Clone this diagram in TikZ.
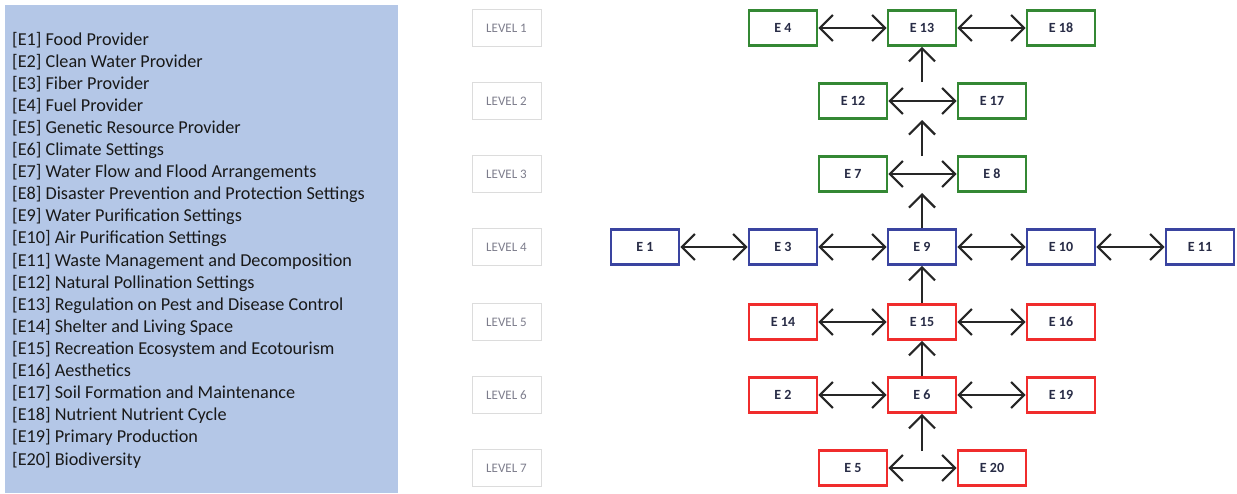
\documentclass[tikz,border=0pt]{standalone}
\usepackage{fontspec}
\setmainfont{Carlito}
\usetikzlibrary{arrows.meta}
\definecolor{panel}{RGB}{180,199,231}
\definecolor{gbox}{RGB}{52,136,52}
\definecolor{bbox}{RGB}{58,68,160}
\definecolor{rbox}{RGB}{240,44,44}
\definecolor{lvtext}{RGB}{125,125,140}
\definecolor{lvline}{RGB}{220,220,220}
\definecolor{ntext}{RGB}{40,44,70}
\tikzset{
  ebox/.style={draw, line width=2.6pt, minimum width=68pt, minimum height=35pt, inner sep=0pt, fill=white, font=\fontsize{14}{16}\selectfont\bfseries, text=ntext},
  gn/.style={ebox, draw=gbox},
  bn/.style={ebox, draw=bbox},
  rn/.style={ebox, draw=rbox},
  lvbox/.style={draw=lvline, line width=1pt, minimum width=69pt, minimum height=37pt, inner sep=0pt, font=\fontsize{13}{15}\selectfont, text=lvtext},
  conn/.style={line width=2.3pt, draw=black!85, {Straight Barb[length=13pt,width=26pt,line width=2.2pt]}-{Straight Barb[length=13pt,width=26pt,line width=2.2pt]}},
  up/.style={line width=2.3pt, draw=black!85, -{Straight Barb[length=13pt,width=26pt,line width=2.2pt]}},
  item/.style={anchor=west, inner sep=0pt, font=\fontsize{18.2}{20}\selectfont, text=black!90}
}
\begin{document}
\begin{tikzpicture}[x=1pt,y=-1pt]
\useasboundingbox (0,0) rectangle (1237,493);
% panel
\fill[panel] (5,5) rectangle (398,493);
\foreach \t [count=\i] in {{[E1] Food Provider},{[E2] Clean Water Provider},{[E3] Fiber Provider},{[E4] Fuel Provider},{[E5] Genetic Resource Provider},{[E6] Climate Settings},{[E7] Water Flow and Flood Arrangements},{[E8] Disaster Prevention and Protection Settings},{[E9] Water Purification Settings},{[E10] Air Purification Settings},{[E11] Waste Management and Decomposition},{[E12] Natural Pollination Settings},{[E13] Regulation on Pest and Disease Control},{[E14] Shelter and Living Space},{[E15] Recreation Ecosystem and Ecotourism},{[E16] Aesthetics},{[E17] Soil Formation and Maintenance},{[E18] Nutrient Nutrient Cycle},{[E19] Primary Production},{[E20] Biodiversity}}
  \node[item] (it\i) at (12,{40+(\i-1)*22.1}) {\t};
% levels
\node[lvbox] (L1) at (506.5,28) {LEVEL 1};
\node[lvbox] (L2) at (506.5,101) {LEVEL 2};
\node[lvbox] (L3) at (506.5,174) {LEVEL 3};
\node[lvbox] (L4) at (506.5,247) {LEVEL 4};
\node[lvbox] (L5) at (506.5,322) {LEVEL 5};
\node[lvbox] (L6) at (506.5,395) {LEVEL 6};
\node[lvbox] (L7) at (506.5,468) {LEVEL 7};
% level 1
\node[gn] (E4) at (783,28) {E 4};
\node[gn] (E13) at (922,28) {E 13};
\node[gn] (E18) at (1061,28) {E 18};
% level 2
\node[gn] (E12) at (853,101) {E 12};
\node[gn] (E17) at (992,101) {E 17};
% level 3
\node[gn] (E7) at (853,174) {E 7};
\node[gn] (E8) at (992,174) {E 8};
% level 4
\node[bn] (E1) at (645,247) {E 1};
\node[bn] (E3) at (783,247) {E 3};
\node[bn] (E9) at (922,247) {E 9};
\node[bn] (E10) at (1061,247) {E 10};
\node[bn] (E11) at (1200,247) {E 11};
% level 5
\node[rn] (E14) at (783,322) {E 14};
\node[rn] (E15) at (922,322) {E 15};
\node[rn] (E16) at (1061,322) {E 16};
% level 6
\node[rn] (E2) at (783,395) {E 2};
\node[rn] (E6) at (922,395) {E 6};
\node[rn] (E19) at (1061,395) {E 19};
% level 7
\node[rn] (E5) at (853,468) {E 5};
\node[rn] (E20) at (992,468) {E 20};
% horizontal connectors
\draw[conn] (E4) -- (E13);
\draw[conn] (E13) -- (E18);
\draw[conn] (E12) -- (E17);
\draw[conn] (E7) -- (E8);
\draw[conn] (E1) -- (E3);
\draw[conn] (E3) -- (E9);
\draw[conn] (E9) -- (E10);
\draw[conn] (E10) -- (E11);
\draw[conn] (E14) -- (E15);
\draw[conn] (E15) -- (E16);
\draw[conn] (E2) -- (E6);
\draw[conn] (E6) -- (E19);
\draw[conn] (E5) -- (E20);
% vertical connectors
\coordinate (a1) at (922,193);
\coordinate (a2s) at (922,156);
\coordinate (a2e) at (922,120);
\coordinate (a3s) at (922,82);
\coordinate (a7s) at (922,451);
\draw[up] (E9.north) -- (a1);
\draw[up] (a2s) -- (a2e);
\draw[up] (a3s) -- (E13.south);
\draw[up] (E15.north) -- (E9.south);
\draw[up] (E6.north) -- (E15.south);
\draw[up] (a7s) -- (E6.south);
\end{tikzpicture}
\end{document}
